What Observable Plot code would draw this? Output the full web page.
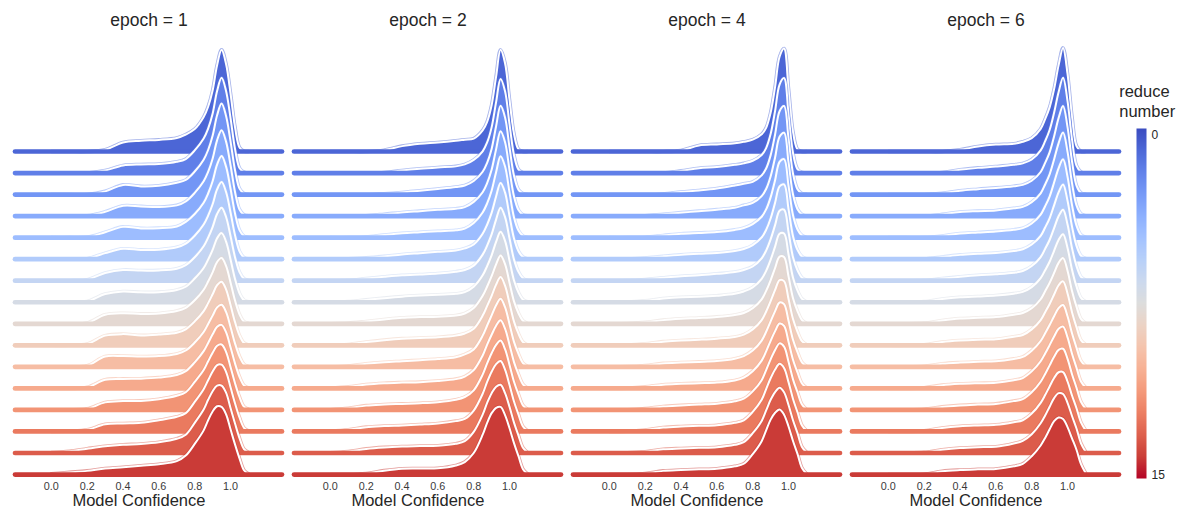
<!DOCTYPE html>
<html><head><meta charset="utf-8">
<script src="https://cdn.jsdelivr.net/npm/d3@7"></script>
<script src="https://cdn.jsdelivr.net/npm/@observablehq/plot@0.6"></script>
<style>
body{margin:0;background:#fff;}
#wrap{position:relative;width:1180px;height:510px;}
#legend{position:absolute;left:1100px;top:80px;}
</style>
</head><body><div id="wrap"><div id="main"></div><div id="legend"></div></div>
<script>
const epochs = [1, 2, 4, 6];
const reduceNumbers = [0,1,2,3,4,5,6,7,8,9,10,11,12,13,14,15];
const confidence = [0,0.1,0.2,0.3,0.4,0.5,0.6,0.7,0.75,0.8,0.85,0.875,0.9,0.925,0.95,0.975,1.0,1.025,1.05,1.075,1.1];
const xTicks = [0, 0.2, 0.4, 0.6, 0.8, 1.0];

const densityEpoch1 = [
[0,0,0,0.08,0.42,0.5,0.54,0.63,0.79,1.04,1.6,2.08,2.83,4.01,4.72,4.06,2.69,1.13,0.19,0.02,0],
[0,0,0,0.12,0.35,0.4,0.42,0.52,0.65,1.05,1.6,2.06,2.75,3.81,4.42,3.81,2.55,1.12,0.23,0.04,0],
[0,0,0,0.15,0.45,0.38,0.41,0.55,0.68,1.07,1.62,2.07,2.73,3.68,4.23,3.65,2.47,1.13,0.28,0.05,0],
[0,0,0.01,0.2,0.48,0.45,0.42,0.5,0.68,1.08,1.62,2.05,2.66,3.52,3.99,3.46,2.36,1.12,0.31,0.06,0.01],
[0,0,0.02,0.25,0.5,0.43,0.44,0.52,0.73,1.1,1.62,2.05,2.62,3.39,3.79,3.3,2.27,1.12,0.35,0.07,0.01],
[0,0,0.02,0.28,0.48,0.43,0.44,0.55,0.72,1.09,1.61,2.02,2.55,3.24,3.58,3.12,2.17,1.11,0.37,0.08,0.01],
[0,0,0.05,0.36,0.5,0.47,0.48,0.56,0.72,1.09,1.6,2.0,2.49,3.1,3.39,2.96,2.07,1.09,0.4,0.09,0.01],
[0,0,0.04,0.38,0.5,0.46,0.47,0.57,0.72,1.1,1.59,1.98,2.43,2.97,3.21,2.82,1.99,1.08,0.42,0.1,0.02],
[0,0,0.04,0.42,0.49,0.46,0.48,0.59,0.74,1.09,1.58,1.96,2.39,2.87,3.06,2.69,1.92,1.08,0.44,0.1,0.02],
[0,0,0.06,0.45,0.52,0.46,0.5,0.58,0.74,1.11,1.59,1.96,2.37,2.79,2.95,2.6,1.87,1.08,0.46,0.11,0.02],
[0,0,0.05,0.48,0.5,0.48,0.5,0.6,0.76,1.13,1.62,1.99,2.38,2.76,2.88,2.55,1.85,1.09,0.49,0.12,0.02],
[0,0,0.05,0.4,0.44,0.45,0.5,0.62,0.8,1.21,1.73,2.11,2.51,2.86,2.95,2.61,1.91,1.16,0.54,0.14,0.02],
[0,0,0.05,0.35,0.41,0.42,0.5,0.66,0.82,1.3,1.85,2.26,2.65,2.98,3.04,2.7,1.99,1.24,0.6,0.15,0.03],
[0,0.02,0.08,0.33,0.37,0.4,0.52,0.68,0.85,1.37,1.96,2.38,2.78,3.08,3.1,2.77,2.05,1.31,0.65,0.17,0.03],
[0.02,0.08,0.2,0.31,0.38,0.42,0.5,0.66,0.85,1.4,2.02,2.47,2.87,3.13,3.13,2.8,2.09,1.37,0.69,0.18,0.03],
[0.03,0.1,0.17,0.28,0.34,0.41,0.48,0.62,0.88,1.42,2.05,2.52,2.93,3.17,3.14,2.8,2.1,1.4,0.75,0.2,0.03]
];
const densityEpoch2 = [
[0,0,0,0.06,0.25,0.36,0.42,0.5,0.55,0.6,0.98,1.38,2.15,3.48,4.72,4.1,2.39,0.81,0.1,0,0],
[0,0,0,0.02,0.12,0.2,0.26,0.31,0.4,0.61,1.01,1.42,2.12,3.29,4.37,3.8,2.26,0.83,0.16,0.02,0],
[0,0,0,0.04,0.1,0.18,0.26,0.35,0.42,0.63,1.06,1.47,2.12,3.17,4.12,3.58,2.18,0.87,0.22,0.05,0],
[0,0,0.02,0.09,0.17,0.23,0.29,0.34,0.42,0.66,1.11,1.53,2.15,3.1,3.94,3.43,2.13,0.91,0.28,0.06,0.01],
[0,0,0.03,0.12,0.2,0.25,0.3,0.34,0.42,0.68,1.17,1.59,2.18,3.04,3.78,3.3,2.09,0.94,0.33,0.08,0.01],
[0,0.02,0.06,0.13,0.22,0.28,0.34,0.4,0.5,0.68,1.18,1.6,2.15,2.91,3.54,3.09,2.0,0.96,0.37,0.1,0.01],
[0,0.02,0.1,0.18,0.25,0.29,0.33,0.42,0.5,0.7,1.21,1.63,2.15,2.84,3.39,2.95,1.96,0.98,0.41,0.11,0.01],
[0,0.03,0.11,0.19,0.26,0.31,0.35,0.39,0.47,0.72,1.25,1.68,2.18,2.8,3.27,2.85,1.93,1.01,0.45,0.12,0.02],
[0,0.03,0.11,0.2,0.28,0.31,0.33,0.38,0.48,0.73,1.3,1.73,2.21,2.76,3.17,2.77,1.91,1.04,0.49,0.14,0.02],
[0,0.04,0.15,0.24,0.31,0.34,0.37,0.45,0.55,0.77,1.38,1.83,2.3,2.82,3.17,2.77,1.95,1.1,0.54,0.15,0.02],
[0,0.04,0.14,0.21,0.26,0.31,0.36,0.45,0.58,0.81,1.45,1.92,2.39,2.86,3.16,2.77,1.98,1.16,0.6,0.17,0.02],
[0.01,0.07,0.18,0.24,0.27,0.29,0.34,0.43,0.55,0.85,1.53,2.03,2.49,2.91,3.16,2.77,2.02,1.22,0.65,0.19,0.02],
[0.01,0.08,0.2,0.25,0.28,0.31,0.36,0.47,0.6,0.91,1.64,2.16,2.63,3.02,3.22,2.82,2.09,1.31,0.72,0.21,0.03],
[0.01,0.08,0.2,0.25,0.28,0.32,0.37,0.48,0.58,0.97,1.75,2.3,2.77,3.13,3.27,2.87,2.16,1.39,0.78,0.23,0.03],
[0.01,0.07,0.19,0.26,0.3,0.32,0.34,0.43,0.55,0.98,1.78,2.33,2.78,3.08,3.17,2.78,2.14,1.41,0.81,0.24,0.03],
[0,0,0.05,0.18,0.27,0.28,0.29,0.42,0.58,1.0,1.85,2.4,2.85,3.1,3.14,2.76,2.15,1.46,0.85,0.25,0.03]
];
const densityEpoch4 = [
[0,0,0,0,0.05,0.28,0.33,0.38,0.45,0.55,0.8,1.1,1.8,3.0,4.4,4.78,2.9,0.9,0.1,0,0],
[0,0,0,0,0.1,0.22,0.28,0.38,0.45,0.57,0.84,1.16,1.81,2.88,4.11,4.41,2.73,0.93,0.18,0.03,0],
[0,0,0,0.03,0.12,0.19,0.28,0.42,0.5,0.59,0.89,1.21,1.82,2.79,3.87,4.11,2.6,0.97,0.25,0.05,0.01],
[0,0,0.02,0.09,0.16,0.23,0.3,0.39,0.5,0.61,0.93,1.26,1.84,2.72,3.68,3.87,2.49,1.0,0.32,0.08,0.01],
[0,0,0.02,0.1,0.18,0.22,0.26,0.36,0.45,0.63,0.97,1.31,1.87,2.67,3.52,3.65,2.4,1.04,0.38,0.1,0.01],
[0,0.01,0.05,0.13,0.2,0.25,0.29,0.38,0.47,0.65,1.01,1.36,1.89,2.62,3.38,3.47,2.32,1.07,0.43,0.12,0.01],
[0,0.01,0.06,0.14,0.21,0.25,0.32,0.4,0.5,0.66,1.04,1.4,1.92,2.58,3.25,3.3,2.25,1.09,0.48,0.14,0.02],
[0,0.01,0.07,0.17,0.23,0.25,0.3,0.39,0.5,0.69,1.09,1.46,1.97,2.58,3.18,3.19,2.22,1.14,0.54,0.16,0.02],
[0,0.01,0.07,0.17,0.23,0.27,0.32,0.41,0.5,0.72,1.13,1.53,2.02,2.59,3.12,3.1,2.2,1.19,0.59,0.17,0.02],
[0,0.01,0.07,0.17,0.22,0.26,0.31,0.39,0.5,0.74,1.17,1.57,2.05,2.57,3.03,2.98,2.15,1.22,0.63,0.19,0.03],
[0,0.01,0.06,0.16,0.2,0.23,0.27,0.38,0.5,0.76,1.22,1.63,2.11,2.59,2.99,2.91,2.14,1.26,0.68,0.21,0.03],
[0,0.01,0.07,0.17,0.21,0.24,0.27,0.37,0.5,0.8,1.29,1.72,2.21,2.66,3.01,2.9,2.17,1.33,0.74,0.23,0.03],
[0,0.01,0.06,0.16,0.21,0.25,0.29,0.4,0.52,0.86,1.38,1.85,2.35,2.78,3.09,2.94,2.24,1.42,0.82,0.25,0.03],
[0,0.01,0.07,0.18,0.23,0.26,0.29,0.4,0.52,0.91,1.47,1.97,2.47,2.88,3.14,2.95,2.29,1.51,0.89,0.28,0.04],
[0,0.01,0.06,0.17,0.21,0.24,0.27,0.38,0.5,0.92,1.49,1.98,2.47,2.83,3.03,2.82,2.23,1.52,0.92,0.28,0.04],
[0,0,0.05,0.17,0.21,0.24,0.27,0.38,0.5,0.95,1.55,2.05,2.55,2.87,3.02,2.78,2.23,1.56,0.96,0.3,0.04]
];
const densityEpoch6 = [
[0,0,0,0,0.08,0.23,0.32,0.36,0.45,0.62,1.05,1.5,2.05,2.9,4.0,4.81,3.6,1.6,0.25,0.01,0],
[0,0,0,0.02,0.15,0.24,0.3,0.38,0.45,0.63,1.05,1.48,2.0,2.8,3.75,4.42,3.34,1.56,0.34,0.05,0],
[0,0,0,0.06,0.18,0.25,0.31,0.39,0.45,0.64,1.05,1.47,1.96,2.7,3.55,4.11,3.13,1.54,0.42,0.08,0.01],
[0,0,0,0.08,0.19,0.23,0.26,0.36,0.43,0.65,1.06,1.47,1.94,2.63,3.38,3.88,2.98,1.53,0.5,0.11,0.02],
[0,0,0,0.08,0.19,0.24,0.29,0.37,0.44,0.66,1.07,1.46,1.91,2.56,3.22,3.64,2.83,1.51,0.56,0.13,0.02],
[0,0,0.01,0.1,0.2,0.25,0.29,0.38,0.46,0.68,1.08,1.47,1.9,2.5,3.1,3.47,2.71,1.51,0.62,0.16,0.03],
[0,0,0.02,0.1,0.18,0.25,0.3,0.37,0.45,0.68,1.1,1.48,1.89,2.44,2.99,3.3,2.61,1.51,0.68,0.18,0.03],
[0,0,0.03,0.15,0.23,0.27,0.31,0.4,0.48,0.7,1.12,1.49,1.88,2.39,2.89,3.16,2.52,1.51,0.73,0.2,0.03],
[0,0,0.03,0.15,0.24,0.28,0.31,0.42,0.5,0.72,1.14,1.51,1.9,2.36,2.83,3.05,2.46,1.52,0.79,0.22,0.03],
[0,0,0.03,0.15,0.22,0.26,0.28,0.4,0.48,0.74,1.17,1.54,1.92,2.36,2.79,2.97,2.41,1.54,0.84,0.24,0.04],
[0,0,0.03,0.14,0.2,0.24,0.26,0.37,0.46,0.75,1.2,1.56,1.94,2.35,2.73,2.87,2.35,1.56,0.89,0.28,0.04],
[0,0,0.03,0.15,0.21,0.24,0.26,0.38,0.48,0.79,1.26,1.62,2.01,2.41,2.77,2.87,2.37,1.61,0.96,0.32,0.05],
[0,0,0.03,0.14,0.21,0.25,0.28,0.41,0.5,0.82,1.31,1.67,2.07,2.47,2.79,2.84,2.37,1.66,1.03,0.38,0.06],
[0,0,0.03,0.16,0.24,0.28,0.31,0.43,0.52,0.83,1.33,1.69,2.09,2.48,2.75,2.76,2.32,1.67,1.08,0.42,0.06],
[0,0,0.03,0.15,0.23,0.27,0.29,0.44,0.56,0.87,1.38,1.74,2.15,2.55,2.78,2.74,2.33,1.72,1.14,0.45,0.07],
[0,0,0.01,0.15,0.21,0.24,0.26,0.38,0.5,0.85,1.35,1.7,2.1,2.48,2.65,2.58,2.2,1.68,1.15,0.48,0.08]
];

const coolwarmStops = ["#3b4cc0","#4d68d7","#6282ea","#779af7","#8db0fe","#a3c2ff","#b8d0f9","#ccd9ee","#dddddd","#ecd3c5","#f5c4ad","#f7b194","#f49a7b","#ec7f63","#de604d","#cb3e38","#b40426"];
const coolwarm = d3.piecewise(d3.interpolateRgb, coolwarmStops);

const densities = [densityEpoch1, densityEpoch2, densityEpoch4, densityEpoch6];
const topRow = d3.max(reduceNumbers);
const table = [];
epochs.forEach((epoch, k) => densities[k].forEach((curve, r) => curve.forEach((density, i) =>
  table.push({epoch, reduce: reduceNumbers[r], confidence: confidence[i], density}))));

const base = d => topRow - d.reduce;
const ridge = d => topRow - d.reduce + d.density;
const font = "'Liberation Sans', Arial, sans-serif";
const curve = "catmull-rom";

const marks = [];
for (const r of reduceNumbers) {
  const rowData = table.filter(d => d.reduce === r);
  const baseData = epochs.map(epoch => ({epoch, reduce: r}));
  marks.push(
    Plot.areaY(rowData, {fx: "epoch", x: "confidence", y1: base, y2: ridge, fill: "reduce", curve}),
    Plot.lineY(rowData, {fx: "epoch", x: "confidence", y: ridge, stroke: "reduce", strokeWidth: 3.6, strokeOpacity: 0.5, curve}),
    Plot.lineY(rowData, {fx: "epoch", x: "confidence", y: ridge, stroke: "white", strokeWidth: 2, curve}),
    Plot.ruleY(baseData, {fx: "epoch", y: base, stroke: "reduce", strokeWidth: 4.7, strokeLinecap: "round"})
  );
}

const main = Plot.plot({
  width: 1180, height: 510,
  marginTop: 54.1, marginBottom: 25.2, marginLeft: 13.6, marginRight: 60.3,
  x: {domain: [-0.2, 1.29]},
  y: {domain: [-0.5, 19.5], axis: null},
  fx: {domain: epochs, paddingInner: 0.044, paddingOuter: 0},
  color: {type: "linear", domain: [-1, 16], interpolate: coolwarm},
  style: {fontFamily: font, background: "white", color: "#262626"},
  marks: [
    ...marks,
    Plot.axisFx({anchor: "top", tickSize: 0, tickPadding: 29, fontSize: 17.5, tickFormat: d => `epoch = ${d}`, label: null, fill: "#262626"}),
    Plot.axisX({ticks: xTicks, tickSize: 0, tickPadding: -3, fontSize: 10.8, tickFormat: d3.format(".1f"), label: null, fill: "#3a3a3a"}),
    Plot.text(epochs, {fx: d => d, x: () => (xTicks[0] + xTicks[xTicks.length - 1]) / 2, frameAnchor: "bottom",
      text: () => "Model Confidence", dx: -2, dy: 15.3, fontSize: 16.5, lineAnchor: "middle", fill: "#262626"})
  ]
});
document.getElementById("main").append(main);

const legend = Plot.plot({
  width: 80, height: 410, margin: 0,
  x: {domain: [0, 1], range: [36, 46], axis: null},
  y: {domain: [0, 15], range: [48, 398], axis: null},
  color: {type: "linear", domain: [0, 15], interpolate: coolwarm},
  style: {fontFamily: font, background: "transparent", color: "#262626"},
  marks: [
    Plot.raster({x1: 0, x2: 1, y1: 0, y2: 15, width: 1, height: 350, fill: (x, y) => y, imageRendering: "auto"}),
    Plot.text([reduceNumbers[0]], {x: 1, y: d => d, dx: 5, dy: 2, textAnchor: "start", lineAnchor: "top", text: d => String(d), fontSize: 12, fill: "#262626"}),
    Plot.text([reduceNumbers[reduceNumbers.length - 1]], {x: 1, y: d => d, dx: 5, textAnchor: "start", lineAnchor: "bottom", text: d => String(d), fontSize: 12, fill: "#262626"}),
    Plot.text(["reduce\nnumber"], {frameAnchor: "top-left", dx: 18.7, dy: 2.5, lineAnchor: "top", lineHeight: 1.22, textAnchor: "start", fontSize: 16.5, fill: "#262626"})
  ]
});
document.getElementById("legend").append(legend);
</script></body></html>
